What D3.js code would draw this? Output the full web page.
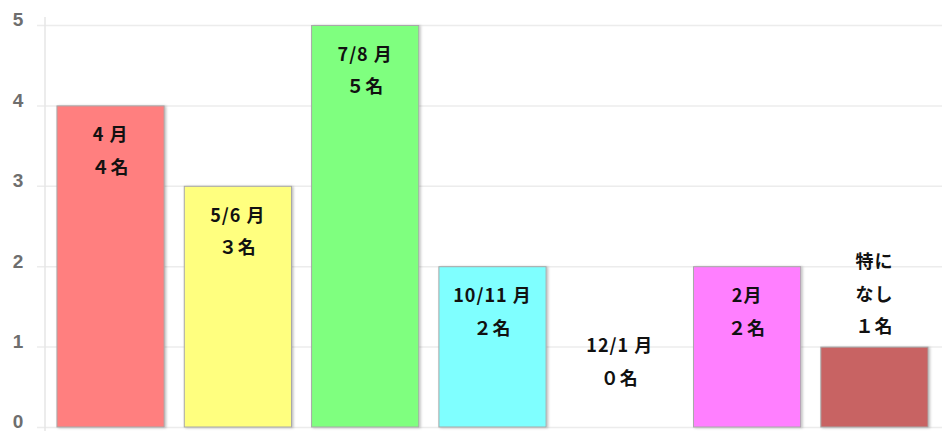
<!DOCTYPE html>
<html>
<head>
<meta charset="utf-8">
<script src="https://cdn.jsdelivr.net/npm/d3@7"></script>
<style>
  html, body { margin: 0; padding: 0; background: #fff; }
  svg { display: block; }
</style>
</head>
<body>
<svg id="chart" width="950" height="432"></svg>
<script>
// Categories (periods), counts and the text written on each bar
const categories = ["4月", "5/6月", "7/8月", "10/11月", "12/1月", "2月", "特になし"];
const counts = [4, 3, 5, 2, 0, 2, 1];
const labelLines = [
  ["4 月", "４名"],
  ["5/6 月", "３名"],
  ["7/8 月", "５名"],
  ["10/11 月", "２名"],
  ["12/1 月", "０名"],
  ["2月", "２名"],
  ["特に", "なし", "１名"]
];
const barColors = ["#FF7F7F", "#FFFF7F", "#7FFF7F", "#7FFFFF", "#FFFFFF", "#FF7FFF", "#C86464"];
const yTicks = [0, 1, 2, 3, 4, 5];

const svg = d3.select("#chart");
const plot = { left: 45, right: 940, top: 25, bottom: 427 };

const x = d3.scaleBand()
  .domain(categories)
  .range([plot.left, plot.right])
  .paddingInner(0.15)
  .paddingOuter(0.09);

const y = d3.scaleLinear()
  .domain([0, 5])
  .range([plot.bottom, plot.top]);

// Horizontal gridlines with short ticks left of the axis
const yAxis = d3.axisLeft(y)
  .tickValues(yTicks)
  .tickFormat(d3.format("d"))
  .tickSize(-(plot.right - plot.left + 2))
  .tickPadding(18);

const gAxis = svg.append("g")
  .attr("transform", `translate(${plot.left},0)`)
  .call(yAxis);
gAxis.select(".domain").remove();
gAxis.selectAll(".tick line")
  .attr("x1", -8)
  .attr("stroke", "#ececec")
  .attr("stroke-width", 1.5);
gAxis.selectAll(".tick text")
  .attr("fill", "#6e6e6e")
  .attr("font-family", "Liberation Sans, Arial, sans-serif")
  .attr("font-weight", "bold")
  .attr("font-size", 19)
  .attr("text-anchor", "middle")
  .attr("x", -27)
  .attr("dy", "0.05em");

// Vertical axis line
svg.append("line")
  .attr("x1", plot.left).attr("x2", plot.left)
  .attr("y1", plot.top - 8).attr("y2", plot.bottom + 4)
  .attr("stroke", "#e6e6e6")
  .attr("stroke-width", 1.5);

// Soft shadow behind bars
const defs = svg.append("defs");
const f = defs.append("filter").attr("id", "shadow")
  .attr("x", "-10%").attr("y", "-10%").attr("width", "130%").attr("height", "130%");
f.append("feDropShadow")
  .attr("dx", 1.5).attr("dy", 0.5)
  .attr("stdDeviation", 0.8)
  .attr("flood-color", "#000")
  .attr("flood-opacity", 0.25);

const rows = categories.map((c, i) => ({ cat: c, v: counts[i], color: barColors[i], lines: labelLines[i] }));

svg.append("g").selectAll("rect")
  .data(rows.filter(d => d.v > 0))
  .join("rect")
  .attr("x", d => x(d.cat) + 0.5)
  .attr("y", d => y(d.v) + 0.5)
  .attr("width", x.bandwidth() - 1)
  .attr("height", d => y(0) - y(d.v) - 0.5)
  .attr("fill", d => d.color)
  .attr("stroke", "#a8a8a8")
  .attr("stroke-width", 1)
  .attr("filter", "url(#shadow)");

// Bar labels: inside the top of tall bars, stacked above short ones
const lineGap = 32.5;
const labels = svg.append("g")
  .attr("font-family", "'Noto Sans CJK JP', 'Noto Sans', sans-serif")
  .attr("font-weight", "bold")
  .attr("font-size", 18)
  .attr("letter-spacing", 1)
  .attr("fill", "#111")
  .attr("text-anchor", "middle");

rows.forEach(d => {
  const cx = x(d.cat) + x.bandwidth() / 2;
  let firstY;
  if (d.v >= 2) {
    firstY = y(d.v) + 31;
  } else if (d.v === 0) {
    firstY = y(1) + 1;
  } else {
    firstY = y(d.v) - 18 - lineGap * (d.lines.length - 1);
  }
  d.lines.forEach((t, k) => {
    labels.append("text")
      .attr("x", cx)
      .attr("y", firstY + k * lineGap)
      .attr("dominant-baseline", "middle")
      .text(t);
  });
});
</script>
</body>
</html>
